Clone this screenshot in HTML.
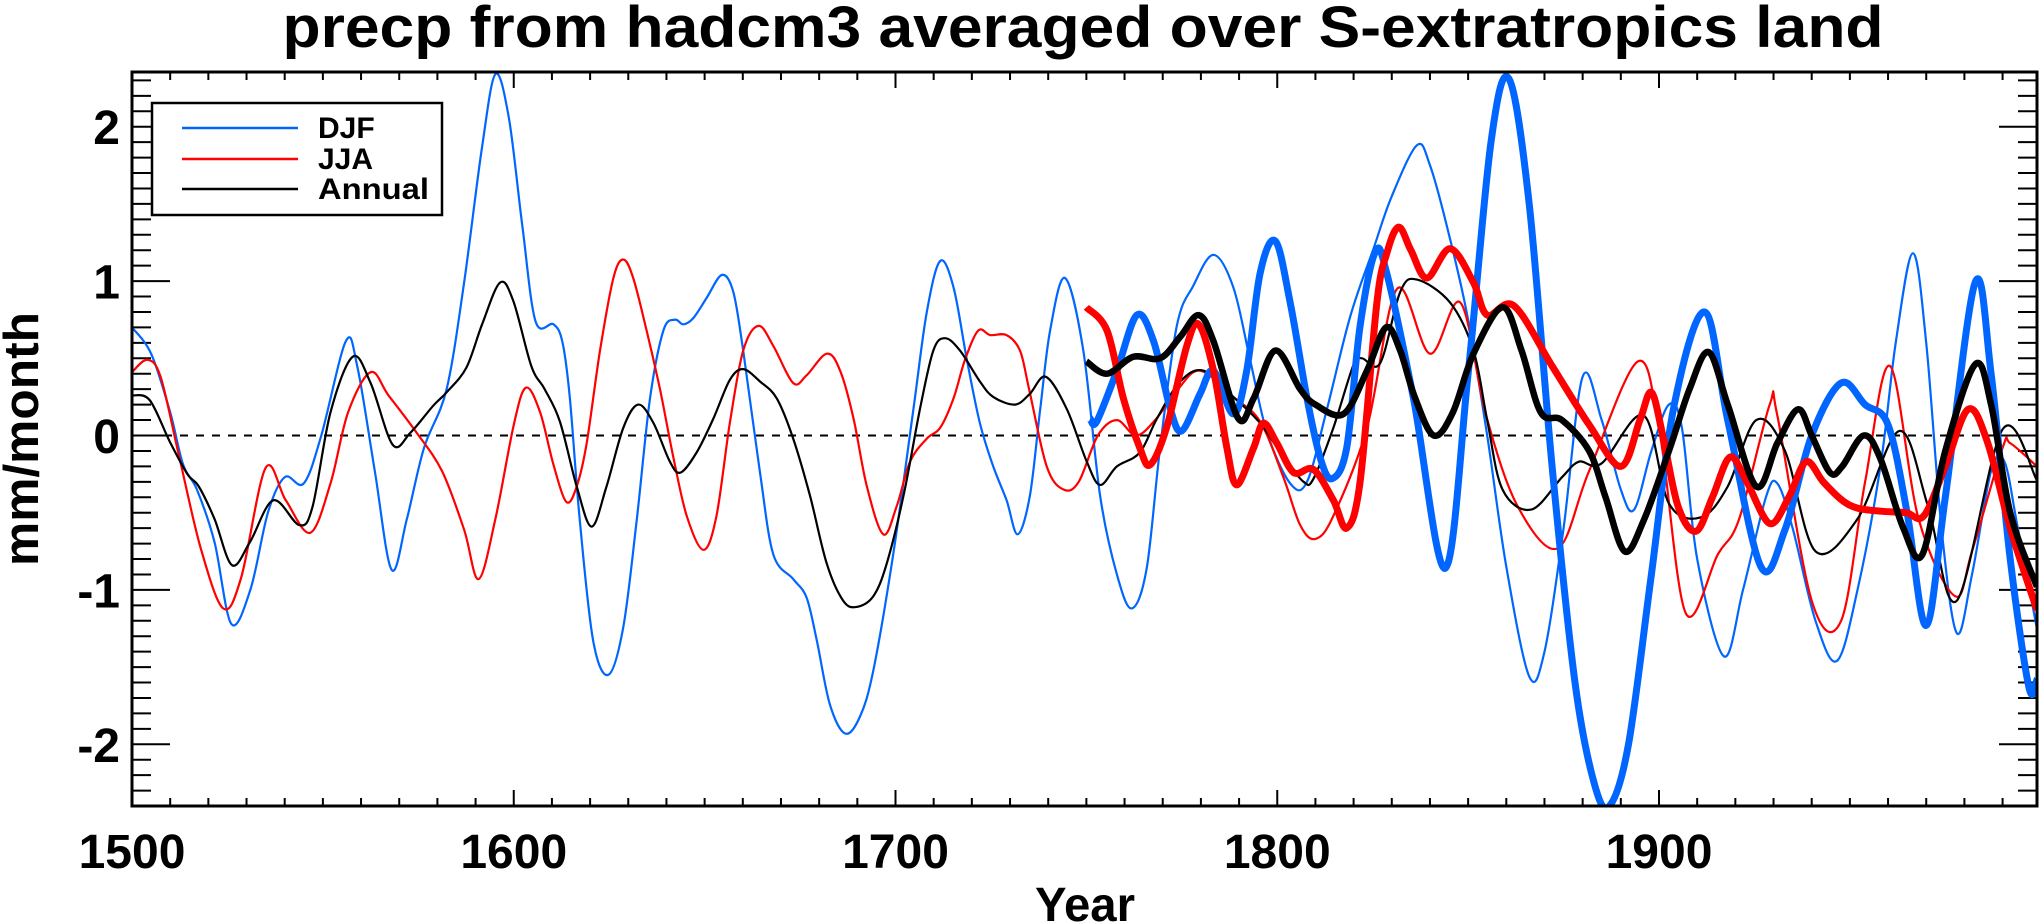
<!DOCTYPE html>
<html><head><meta charset="utf-8"><style>
html,body{margin:0;padding:0;background:#fff;}
svg{display:block;font-family:"Liberation Sans",Arial,sans-serif;font-weight:bold;}
</style></head><body>
<svg id="chart" width="2039" height="924" viewBox="0 0 2039 924" xmlns="http://www.w3.org/2000/svg">
<text x="1083" y="47" font-size="58" text-anchor="middle" textLength="1601" lengthAdjust="spacingAndGlyphs">precp from hadcm3 averaged over S-extratropics land</text>
<text transform="translate(38,439) rotate(-90)" font-size="49" text-anchor="middle" textLength="254" lengthAdjust="spacingAndGlyphs">mm/month</text>
<text x="1085" y="921" font-size="48" text-anchor="middle" textLength="100" lengthAdjust="spacingAndGlyphs">Year</text>
<g id="axes"></g>
<g id="series"></g>
<rect x="132" y="72" width="1905" height="734" fill="none" stroke="#000" stroke-width="3"/>
<g>
<rect x="152" y="103" width="290" height="112" fill="#fff" stroke="#000" stroke-width="2.5"/>
<line x1="182" y1="128" x2="298" y2="128" stroke="#0066ff" stroke-width="2.5"/>
<text x="318" y="138" font-size="30">DJF</text>
<line x1="182" y1="159" x2="298" y2="159" stroke="#ff0000" stroke-width="2.5"/>
<text x="318" y="169" font-size="30">JJA</text>
<line x1="182" y1="189" x2="298" y2="189" stroke="#000" stroke-width="2.5"/>
<text x="318" y="199" font-size="30" textLength="111" lengthAdjust="spacingAndGlyphs">Annual</text>
</g>
</svg>
<script>
const xTickLabels = [1500, 1600, 1700, 1800, 1900];
const yTickLabels = [-2, -1, 0, 1, 2];

const djfYears = [1500,1505,1510,1513.4,1517,1521.6,1526,1531,1535.6,1540,1545,1549.6,1556,1559,1563.6,1568,1572,1576.5,1582.4,1587,1591.7,1595.2,1598.7,1602.2,1605.7,1610.4,1612.8,1614.7,1617.3,1620.8,1624.8,1628.7,1632.2,1635.7,1639.2,1642.2,1644.4,1647,1650.5,1654.5,1657.5,1660.1,1664.5,1668,1673.2,1676.7,1679.4,1682.8,1686.8,1690.7,1694.2,1699.4,1704.7,1708.2,1711.7,1715.2,1718.7,1722.1,1725.6,1729.1,1732,1735.2,1737.9,1740.5,1744.4,1749.2,1753.6,1758,1761.9,1765.8,1769.3,1773.7,1778,1783.3,1788.5,1792.9,1797.3,1803.4,1807.8,1813,1819.1,1825.2,1830,1836.6,1840,1845,1850,1855,1860,1866,1870,1875,1880,1885,1890,1893.5,1898,1902.6,1906,1910,1917,1922,1928,1931,1935,1941,1946.6,1952,1958,1962,1966.5,1970,1974,1978,1982,1987,1990.5,1994,1999];
const djfValues = [0.70,0.53,0.15,-0.19,-0.35,-0.69,-1.22,-1.0,-0.5,-0.27,-0.31,0.0,0.61,0.45,-0.23,-0.87,-0.54,-0.08,0.3,0.99,1.87,2.34,2.06,1.37,0.74,0.72,0.6,0.24,-0.55,-1.33,-1.55,-1.24,-0.55,0.24,0.68,0.75,0.72,0.76,0.89,1.04,0.93,0.55,-0.24,-0.77,-0.93,-1.05,-1.33,-1.74,-1.93,-1.82,-1.52,-0.77,0.17,0.8,1.13,0.96,0.49,0.08,-0.2,-0.42,-0.64,-0.39,0.17,0.68,1.02,0.55,-0.39,-0.9,-1.12,-0.86,-0.08,0.71,0.97,1.17,0.96,0.49,0.02,-0.31,-0.3,0.17,0.77,1.21,1.55,1.88,1.75,1.3,0.75,0.0,-0.85,-1.56,-1.4,-0.6,0.38,0.1,-0.35,-0.48,-0.1,0.2,0.05,-0.8,-1.43,-1.0,-0.4,-0.31,-0.6,-1.2,-1.46,-1.0,-0.2,0.6,1.18,0.6,-0.6,-1.28,-0.9,-0.23,-0.17,-0.6,-1.25];

const jjaYears = [1500,1504,1507.5,1512.2,1518,1523.9,1528.6,1535,1540.3,1546.7,1552,1556.6,1562.5,1567.2,1574.2,1581.2,1587,1590.8,1595.2,1600,1603.2,1606.9,1610.4,1613.8,1616.5,1619.1,1622.6,1626.1,1628.7,1631.3,1634.8,1638.3,1641.8,1645.3,1649.7,1653.1,1656.6,1660.1,1664.1,1668,1673.2,1676.7,1682,1685.5,1689,1692.5,1696.8,1700.3,1703.8,1708.2,1711.7,1715.2,1718.2,1721.7,1724.8,1729.1,1732.6,1735,1739.6,1744,1748,1753,1758,1763,1768,1774,1779.8,1788.5,1795.5,1801.6,1806,1810,1814.7,1823.5,1831.4,1840,1848,1854.7,1863,1873.5,1881.7,1894.5,1900.3,1907,1915.4,1921,1929,1931,1940,1947.7,1954,1960.5,1968,1977.5,1982,1990,1992,1999];
const jjaValues = [0.41,0.49,0.38,-0.12,-0.73,-1.12,-0.92,-0.21,-0.42,-0.63,-0.31,0.15,0.41,0.26,0.03,-0.23,-0.61,-0.93,-0.54,0.07,0.31,0.15,-0.19,-0.43,-0.33,-0.05,0.55,1.02,1.14,1.02,0.68,0.3,-0.14,-0.52,-0.74,-0.52,0.08,0.55,0.71,0.58,0.34,0.39,0.53,0.42,0.11,-0.33,-0.64,-0.46,-0.17,-0.02,0.05,0.24,0.49,0.68,0.65,0.65,0.55,0.3,-0.2,-0.35,-0.3,0.0,0.1,0.0,0.1,0.3,0.42,0.25,0.09,-0.27,-0.58,-0.67,-0.52,0.05,0.95,0.53,0.86,0.13,-0.46,-0.73,-0.23,0.48,0.0,-1.15,-0.77,-0.54,0.2,0.13,-1.07,-1.2,-0.3,0.45,-0.54,-1.04,-0.75,-0.08,-0.05,-0.2];

const annYears = [1500,1504.6,1509.9,1514.5,1517.5,1521.6,1526.2,1530.9,1537,1543.8,1547.3,1552,1557.8,1562.5,1568.3,1573,1578.8,1582.4,1587.6,1591.7,1596.4,1599.9,1604.6,1608.1,1612.1,1616.5,1620.4,1624.3,1628.7,1632.6,1636.6,1640.9,1643.7,1647.9,1652.3,1656.6,1660.1,1664.5,1668.9,1673.2,1677.6,1682,1686.3,1689.8,1694.2,1697.7,1702.1,1706.4,1709.9,1713,1716.9,1722.1,1725.6,1731.3,1735.2,1739.4,1744.9,1750.1,1753.6,1758,1764,1768.5,1774.6,1780.7,1788.5,1795.5,1801.6,1806.9,1809.5,1814.7,1820,1822.2,1827,1832.2,1836.6,1845.3,1851.4,1855,1859,1866.5,1874.6,1879,1885,1896,1902.6,1911,1918,1925.5,1933,1941,1952,1963,1970.5,1978,1990,1999];
const annValues = [0.26,0.23,-0.04,-0.25,-0.33,-0.54,-0.84,-0.69,-0.42,-0.58,-0.46,0.15,0.51,0.34,-0.06,0.02,0.19,0.28,0.44,0.72,0.99,0.87,0.45,0.3,0.09,-0.33,-0.59,-0.33,0.05,0.2,0.08,-0.17,-0.24,-0.11,0.11,0.36,0.43,0.35,0.24,-0.02,-0.39,-0.83,-1.07,-1.11,-1.04,-0.83,-0.39,0.17,0.55,0.63,0.55,0.35,0.25,0.2,0.27,0.38,0.17,-0.17,-0.32,-0.2,-0.11,0.11,0.35,0.42,0.25,0.08,-0.14,-0.3,-0.28,0.05,0.46,0.5,0.47,0.93,1.01,0.86,0.55,0.1,-0.35,-0.48,-0.27,-0.17,-0.18,0.13,-0.44,-0.53,-0.33,0.1,-0.1,-0.75,-0.54,0.03,-0.46,-1.07,0.04,-0.29];

const djfThickYears = [1751,1752.7,1758,1763.2,1767.6,1772,1775,1779.8,1783.3,1788.5,1792,1795.5,1799.5,1803.4,1807.8,1811.2,1814.3,1818.2,1821.7,1825.7,1828.7,1835.7,1844,1850,1856,1860.7,1866,1872,1878,1883,1887,1892,1898,1904,1912,1918,1926.7,1933,1940,1947.7,1954,1960,1965,1970,1975,1982.8,1987,1992,1996.9,1999];
const djfThickValues = [0.11,0.09,0.42,0.78,0.61,0.17,0.03,0.27,0.42,0.14,0.42,1.05,1.26,0.86,0.24,-0.14,-0.28,-0.08,0.71,1.19,1.05,0.24,-0.86,0.4,1.9,2.31,1.5,-0.2,-1.6,-2.25,-2.4,-2.0,-0.9,0.2,0.8,0.1,-0.85,-0.61,0.0,0.34,0.2,0.07,-0.5,-1.23,-0.4,0.99,0.4,-0.8,-1.63,-1.58];

const jjaThickYears = [1750,1755.4,1759.7,1764,1766.7,1771,1776.3,1779.4,1783.3,1786.8,1789.4,1793.8,1796.4,1799.9,1804.3,1809.5,1814.7,1818.2,1821.7,1826.1,1828.7,1831.8,1835,1839.2,1845.3,1851.4,1855,1862,1872,1881.7,1890,1895,1898,1901,1905,1909.7,1914,1918.6,1923,1929,1934,1938.5,1943,1948,1952,1958,1964.7,1969.4,1975,1981,1986,1992,1999];
const jjaThickValues = [0.83,0.68,0.24,-0.08,-0.19,0.05,0.58,0.72,0.42,-0.08,-0.32,-0.08,0.08,-0.05,-0.24,-0.22,-0.42,-0.6,-0.3,0.86,1.18,1.35,1.2,1.02,1.21,0.99,0.78,0.84,0.45,0.07,-0.2,0.1,0.28,0.0,-0.46,-0.62,-0.4,-0.14,-0.3,-0.57,-0.4,-0.17,-0.3,-0.42,-0.47,-0.49,-0.5,-0.52,-0.2,0.17,-0.04,-0.6,-1.13];

const annThickYears = [1750,1755.4,1762.3,1769.3,1774.6,1779.4,1783.3,1789.8,1793.8,1799.5,1806,1810,1817.4,1823.5,1828.5,1832.2,1836,1841,1846,1851.4,1859,1864,1869,1874.6,1881.7,1886,1891,1896,1902.6,1908,1913,1918,1925.5,1931,1936.4,1940,1944.8,1948,1953.6,1958,1964,1969,1975,1982.8,1987,1992,1999];
const annThickValues = [0.48,0.4,0.51,0.5,0.64,0.78,0.61,0.11,0.24,0.55,0.3,0.2,0.14,0.42,0.7,0.55,0.25,0.0,0.15,0.53,0.83,0.55,0.15,0.1,-0.1,-0.4,-0.75,-0.55,-0.1,0.3,0.54,0.2,-0.33,-0.05,0.17,0.0,-0.24,-0.2,0.0,-0.15,-0.6,-0.77,-0.1,0.46,0.2,-0.5,-0.98];

const NS = 'http://www.w3.org/2000/svg';
const L = 132, R = 2037, T = 72, B = 806;
function xScale(yr){ return 132 + (yr - 1500) * 3.8175; }
function yScale(v){ return 435.5 - v * 154.4; }
function mk(tag, attrs, parent){ const e = document.createElementNS(NS, tag); for (const k in attrs) e.setAttribute(k, attrs[k]); parent.appendChild(e); return e; }

const axes = document.getElementById('axes');
// x ticks every 10 years
for (let yr = 1500; yr <= 1999; yr += 10) {
  const x = xScale(yr); const major = yr % 100 === 0; const len = major ? 16 : 8;
  const t1 = mk('line', {x1:x, y1:B, x2:x, y2:B-len, stroke:'#000', 'stroke-width':2}, axes);
  
  
  const t2 = mk('line', {x1:x, y1:T, x2:x, y2:T+len, stroke:'#000', 'stroke-width':2}, axes);
  
  
}
xTickLabels.forEach(v => {
  const t = mk('text', {x:xScale(v), y:868, 'font-size':48, 'text-anchor':'middle'}, axes);
  t.textContent = v;
  
  
});
// y ticks every 0.1
for (let i = -24; i <= 23; i++) {
  const v = i / 10; const y = yScale(v); const major = i % 10 === 0; const len = major ? 38 : 19;
  const t1 = mk('line', {x1:L, y1:y, x2:L+len, y2:y, stroke:'#000', 'stroke-width':2}, axes);
  
  
  const t2 = mk('line', {x1:R, y1:y, x2:R-len, y2:y, stroke:'#000', 'stroke-width':2}, axes);
  
  
}
yTickLabels.forEach(v => {
  const t = mk('text', {x:120, y:yScale(v)+17.5, 'font-size':48, 'text-anchor':'end'}, axes);
  t.textContent = v;
  
  
});
const zl = mk('line', {x1:L, y1:yScale(0), x2:R, y2:yScale(0), stroke:'#000', 'stroke-width':2, 'stroke-dasharray':'8 8'}, axes);



function pathFor(years, vals){
  const p = years.map((y,i) => [xScale(y), yScale(vals[i])]);
  let d = 'M' + p[0][0].toFixed(1) + ' ' + p[0][1].toFixed(1);
  for (let i = 0; i < p.length - 1; i++) {
    const p0 = p[i-1] || p[i], p1 = p[i], p2 = p[i+1], p3 = p[i+2] || p2;
    const c1x = p1[0] + (p2[0]-p0[0])/6, c1y = p1[1] + (p2[1]-p0[1])/6;
    const c2x = p2[0] - (p3[0]-p1[0])/6, c2y = p2[1] - (p3[1]-p1[1])/6;
    d += ' C' + c1x.toFixed(1)+' '+c1y.toFixed(1)+' '+c2x.toFixed(1)+' '+c2y.toFixed(1)+' '+p2[0].toFixed(1)+' '+p2[1].toFixed(1);
  }
  return d;
}
const series = document.getElementById('series');
const defs = mk('defs', {}, series);
const cp = mk('clipPath', {id:'plotclip'}, defs);
mk('rect', {x:L, y:T, width:R-L, height:B-T}, cp);
const g = mk('g', {'clip-path':'url(#plotclip)'}, series);
const specs = [
  [djfYears, djfValues, '#0066ff', 2.2, 'djf-line'],
  [jjaYears, jjaValues, '#ff0000', 2.2, 'jja-line'],
  [annYears, annValues, '#000000', 2.2, 'annual-line'],
  [djfThickYears, djfThickValues, '#0066ff', 7, 'djf-thick-line'],
  [jjaThickYears, jjaThickValues, '#ff0000', 7, 'jja-thick-line'],
  [annThickYears, annThickValues, '#000000', 6.5, 'annual-thick-line']
];
specs.forEach(s => {
  const e = mk('path', {d:pathFor(s[0], s[1]), fill:'none', stroke:s[2], 'stroke-width':s[3], 'stroke-linejoin':'round'}, g);
  
  
});
</script>
</body></html>
